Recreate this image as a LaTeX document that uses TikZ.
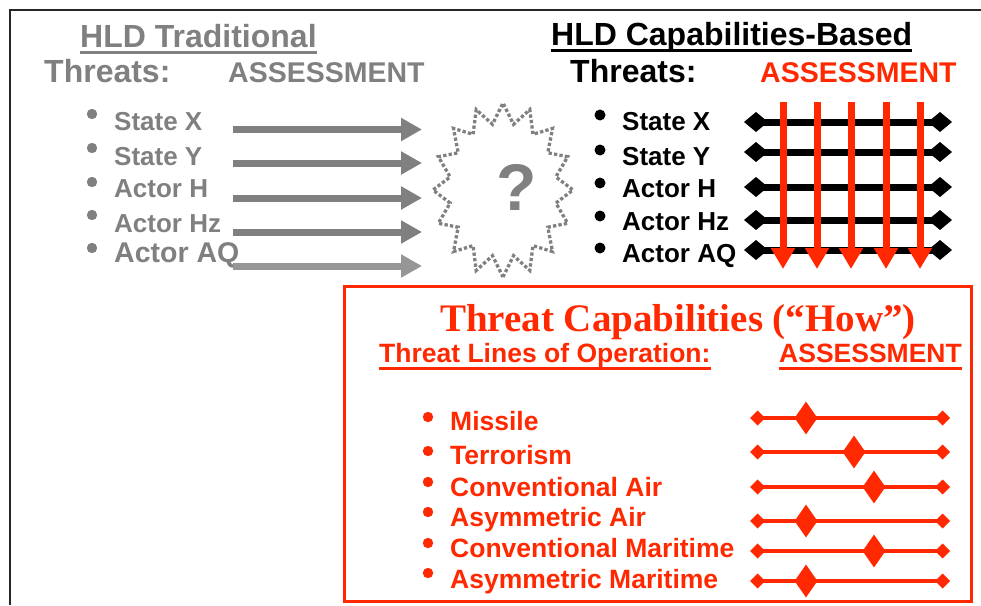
\documentclass[tikz,border=0pt]{standalone}
\usepackage{fontspec}
\setmainfont{Liberation Sans}
\newfontfamily\tnrfont{Liberation Serif}
\usetikzlibrary{arrows.meta,shapes.geometric}
\definecolor{tred}{RGB}{255,40,0}
\definecolor{tgray}{RGB}{128,128,128}
\definecolor{lgray}{RGB}{150,150,150}
\newcommand{\fsz}[1]{\fontsize{#1}{#1}\selectfont}
\begin{document}
\begin{tikzpicture}[x=1pt,y=-1pt,
  txt/.style={anchor=base west, inner sep=0pt, font=\bfseries\fsz{26}},
  uline/.style={line width=3pt},
  garrow/.style={line width=7pt, tgray, -{Triangle[width=22pt,length=21pt]}},
  rarrow/.style={line width=7pt, tred, -{Triangle[width=23pt,length=21pt]}},
  bline/.style={line width=7pt, black, {Diamond[width=20pt,length=24pt]}-{Diamond[width=20pt,length=24pt]}},
  rline/.style={line width=4pt, tred, {Diamond[width=15pt,length=15pt]}-{Diamond[width=15pt,length=15pt]}},
  bigdia/.style={diamond, fill=tred, minimum width=23pt, minimum height=33pt, inner sep=0pt},
  burst/.style={tgray, line width=3.3pt, dash pattern=on 3.3pt off 2.2pt}
]
\useasboundingbox (0,0) rectangle (981,605);
% outer frame
\draw[line width=2pt, black!85] (10,605) -- (10,10) -- (981,10);

% ---------- left: traditional ----------
\node[txt, text=tgray, font=\bfseries\fsz{32}] (hldt) at (80,47) {HLD Traditional};
\draw[uline, tgray] ([yshift=-5pt]hldt.base west) -- ([yshift=-5pt]hldt.base east);
\node[txt, text=tgray, font=\bfseries\fsz{32}] (thl) at (44,82) {Threats:};
\node[txt, text=tgray, font=\bfseries\fsz{28.5}] (asl) at (228,82) {ASSESSMENT};
\foreach \t/\y/\b/\s [count=\i] in {State X/130/114/26, State Y/165/148/26, Actor H/197/182/26, Actor Hz/232/215/26, Actor AQ/262/248/28.5}{
  \fill[tgray] (92,\b) circle (5.2);
  \node[txt, text=tgray, font=\bfseries\fsz{\s}] (li\i) at (114,\y) {\t};
}
\foreach \y [count=\i] in {129.5,163,198,232}{
  \coordinate (gs\i) at (233,\y);
  \coordinate (ge\i) at (422,\y);
  \draw[garrow] (gs\i) -- (ge\i);
}
\coordinate (gs5) at (233,266);
\coordinate (ge5) at (422,266);
\draw[garrow, lgray] (gs5) -- (ge5);

% starburst
\draw[burst] (503,277) \foreach \i in {1,...,31}{
  -- ({503+70*(0.885+0.115*cos(\i*180))*sin(\i*11.25)}, {190+87*(0.885+0.115*cos(\i*180))*cos(\i*11.25)}) } -- cycle;
\node[anchor=base, inner sep=0pt, text=tgray, font=\bfseries\fsz{66}] (q) at (517,210) {?};

% ---------- right: capabilities-based ----------
\node[txt, text=black, font=\bfseries\fsz{32}] (hldc) at (551,45) {HLD Capabilities-Based};
\draw[uline, black] ([yshift=-5pt]hldc.base west) -- ([yshift=-5pt]hldc.base east);
\node[txt, text=black, font=\bfseries\fsz{32}] (thr) at (570,82) {Threats:};
\node[txt, text=tred, font=\bfseries\fsz{28.5}] (asr) at (760,82) {ASSESSMENT};
\foreach \t/\y/\b [count=\i] in {State X/130/115, State Y/165/150, Actor H/197/183, Actor Hz/230/216, Actor AQ/262/248}{
  \fill[black] (600,\b) circle (5.5);
  \node[txt, text=black] (ri\i) at (622,\y) {\t};
}
\foreach \y [count=\i] in {122,152,187,220,250}{
  \coordinate (bs\i) at (744,\y);
  \coordinate (be\i) at (952,\y);
  \draw[bline] (bs\i) -- (be\i);
}
\foreach \x [count=\i] in {783,817,851,886,920}{
  \coordinate (rs\i) at (\x,102);
  \coordinate (re\i) at (\x,269);
  \draw[rarrow] (rs\i) -- (re\i);
}

% ---------- red box ----------
\node[draw=tred, line width=3pt, minimum width=627pt, minimum height=315pt, anchor=north west, inner sep=0pt] (box) at (343,285) {};
\node[anchor=base, inner sep=0pt, text=tred, font=\tnrfont\bfseries\fsz{39}] (title) at (678,331) {Threat Capabilities (“How”)};
\node[txt, text=tred, font=\bfseries\fsz{26.5}] (tlo) at (379,362) {Threat Lines of Operation:};
\draw[uline, tred] ([yshift=-6pt]tlo.base west) -- ([yshift=-6pt]tlo.base east);
\node[txt, text=tred, font=\bfseries\fsz{26.5}] (asb) at (779,362) {ASSESSMENT};
\draw[uline, tred] ([yshift=-6pt]asb.base west) -- ([yshift=-6pt]asb.base east);
\foreach \t/\y/\b/\ly/\dx [count=\i] in {Missile/430/417/418/806, Terrorism/464/451/452/854, Conventional Air/496/482/487/874, Asymmetric Air/526/512/521/806, Conventional Maritime/557/543/551/874, Asymmetric Maritime/588/573/581/806}{
  \fill[tred] (428,\b) circle (5.2);
  \node[txt, text=tred, font=\bfseries\fsz{26.5}] (bi\i) at (450,\y) {\t};
  \coordinate (ls\i) at (750,\ly);
  \coordinate (le\i) at (950,\ly);
  \draw[rline] (ls\i) -- (le\i);
  \node[bigdia] (d\i) at (\dx,\ly) {};
}
\end{tikzpicture}
\end{document}
